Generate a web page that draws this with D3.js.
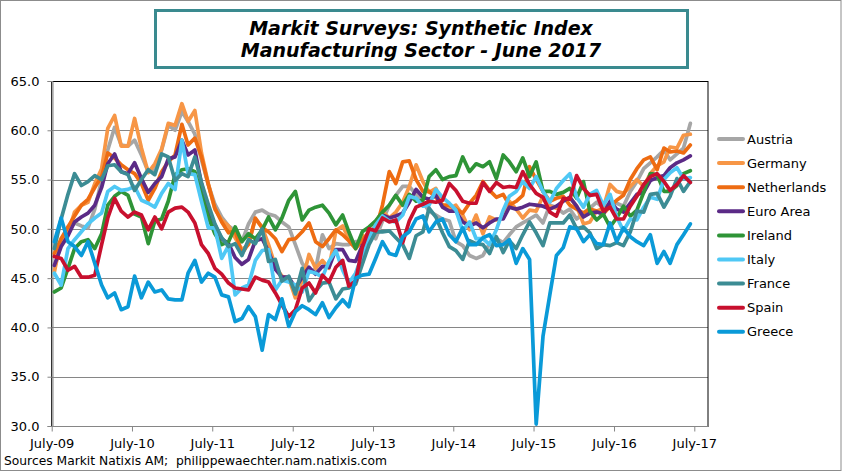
<!DOCTYPE html>
<html><head><meta charset="utf-8">
<script src="https://cdn.jsdelivr.net/npm/d3@7"></script>
<style>
body{margin:0;background:#fff}
svg{display:block}
text{font-family:"DejaVu Sans",Verdana,sans-serif}
</style>
</head><body>
<svg id="chart" width="842" height="472"></svg>
<script>
// ---------- DATA ----------
const titleLines = ["Markit Surveys: Synthetic Index", "Manufacturing Sector - June 2017"];
const sourceText = "Sources Markit Natixis AM;  philippewaechter.nam.natixis.com";
const firstMonth = "2009-07";   // monthly data, July 2009 .. June 2017
const xTickLabels = ["July-09","July-10","July-11","July-12","July-13","July-14","July-15","July-16","July-17"];
const yTicks = [30, 35, 40, 45, 50, 55, 60, 65];
const seriesNames = ["Austria","Germany","Netherlands","Euro Area","Ireland","Italy","France","Spain","Greece"];

const austria = [46.0,48.5,50.2,50.6,50.3,50.1,
 52.0,55.0,58.0,60.3,58.5,58.4,59.0,57.5,55.8,56.0,58.0,60.5,
 60.0,61.9,60.9,59.6,57.0,54.5,52.5,51.2,50.3,49.8,48.7,50.5,
 51.7,51.9,51.5,51.3,50.7,50.2,48.4,46.5,45.6,45.9,49.4,48.0,
 48.5,48.4,48.4,48.7,48.7,49.7,49.0,50.8,52.4,53.4,54.3,54.3,
 53.5,52.7,51.8,51.4,51.0,50.8,48.7,48.3,47.3,47.0,47.3,48.5,
 49.0,48.6,49.4,50.2,50.6,51.0,51.4,50.6,52.4,52.2,51.6,52.0,
 51.0,51.6,52.1,52.7,52.1,52.6,52.6,52.3,53.8,54.8,56.1,56.7,
 57.3,58.0,57.0,57.6,58.2,60.7];
const germany = [45.6,49.0,49.6,51.7,52.4,52.7,
 54.6,56.1,60.2,61.5,58.4,58.4,61.2,58.2,55.7,56.6,58.1,60.7,
 60.5,62.7,60.9,62.0,57.7,54.6,52.0,50.9,50.3,49.1,47.9,48.4,
 51.0,50.2,48.4,46.2,45.2,45.0,43.0,44.7,47.4,46.0,46.8,46.0,
 49.8,50.3,49.0,48.1,49.4,48.6,50.7,51.8,51.1,51.7,52.7,54.3,
 56.5,54.8,53.7,54.1,52.3,52.0,52.4,51.4,49.9,51.4,49.5,51.2,
 50.9,51.1,52.8,52.0,51.1,51.9,51.8,53.3,52.3,52.1,52.9,53.2,
 52.3,50.5,50.7,51.8,52.1,54.5,53.8,53.6,54.3,55.0,54.3,55.6,
 56.4,56.8,58.3,58.2,59.5,59.6];
const netherlands = [47.5,49.0,50.2,51.3,52.4,53.0,
 54.2,55.3,57.7,57.2,56.5,56.0,55.6,54.6,52.9,54.1,55.8,56.8,
 57.5,60.6,58.5,59.2,57.3,54.5,52.1,50.7,49.6,49.8,47.5,48.5,
 51.1,50.1,49.7,49.0,47.7,48.9,49.0,49.7,50.6,48.7,48.2,49.0,
 49.9,49.4,48.8,48.0,48.8,49.7,49.9,52.4,55.8,54.6,56.8,56.9,
 55.0,53.8,53.8,53.2,52.4,52.4,52.0,51.6,52.6,53.4,54.8,53.9,
 53.2,53.5,52.4,52.8,53.4,56.3,55.0,53.8,52.8,53.1,53.3,52.4,
 52.0,51.6,52.0,51.8,51.5,52.3,52.9,53.4,55.0,56.1,57.0,57.3,
 56.0,58.2,57.8,57.9,57.7,58.5];
const euroArea = [46.3,48.2,49.3,50.7,51.2,51.6,
 52.4,54.2,56.6,57.6,55.8,55.6,56.7,55.1,53.7,54.6,55.3,57.1,
 57.3,59.0,57.5,58.0,54.6,52.0,50.4,49.0,48.5,47.1,46.4,46.9,
 48.8,49.0,47.7,45.9,45.1,45.1,44.0,45.1,46.1,45.4,46.2,46.1,
 47.9,47.9,46.8,46.7,48.3,48.8,50.3,51.4,51.1,51.3,51.6,52.7,
 54.0,53.2,53.0,53.4,52.2,51.8,51.8,50.7,50.3,50.6,50.1,50.6,
 51.0,51.0,52.2,52.0,52.2,52.5,52.4,52.3,52.0,52.3,52.8,53.2,
 52.3,51.2,51.6,51.7,51.5,52.8,52.0,51.7,52.6,53.5,53.7,54.9,
 55.2,55.4,56.2,56.7,57.0,57.4];
const ireland = [43.6,44.0,46.0,48.0,48.7,48.9,
 48.0,49.5,52.4,53.3,53.8,53.4,51.5,51.2,48.5,50.8,51.0,52.8,
 55.5,56.0,56.1,55.8,53.5,51.2,49.5,48.4,48.7,50.2,48.7,49.5,
 49.0,49.9,51.2,49.9,51.1,52.9,53.8,50.9,51.9,52.2,52.4,51.6,
 50.4,51.4,49.7,48.0,49.7,50.2,50.8,51.7,52.4,53.4,52.4,53.5,
 52.8,52.9,55.3,56.0,55.0,55.3,55.4,57.3,55.8,56.6,56.3,56.8,
 55.1,57.5,56.8,55.8,57.2,55.3,56.8,53.8,53.8,53.5,53.7,54.1,
 53.1,54.8,51.8,50.9,51.5,50.2,51.1,52.3,51.3,51.9,53.7,55.6,
 55.5,53.8,53.8,54.4,55.6,55.9];
const italy = [45.5,44.3,48.0,48.9,49.7,50.5,
 51.1,51.6,53.8,54.3,53.9,54.0,54.3,52.9,52.6,52.2,53.6,54.6,
 54.0,59.0,55.6,55.5,52.8,50.1,50.1,47.0,48.3,43.3,44.0,44.3,
 46.8,47.8,47.9,43.8,44.8,44.6,44.3,43.6,45.7,45.5,45.1,46.7,
 47.8,45.8,44.5,45.5,47.3,49.1,50.4,51.3,50.8,50.7,51.4,53.3,
 53.1,52.3,52.4,54.0,53.2,52.6,51.9,49.8,50.7,49.0,49.0,48.4,
 49.9,51.9,53.3,53.8,54.8,54.1,55.3,53.8,52.7,54.1,54.9,55.6,
 53.2,52.2,53.5,53.9,52.4,53.5,51.2,49.8,51.0,50.9,52.2,53.2,
 53.0,55.0,55.7,56.2,55.1,55.2];
const france = [48.0,51.0,53.5,55.6,54.4,54.8,
 55.4,55.0,56.4,56.5,55.8,55.5,53.9,55.0,56.0,55.5,57.6,57.3,
 54.9,55.6,55.3,57.3,54.7,52.5,50.5,49.1,48.2,48.5,47.3,48.9,
 48.5,50.0,46.7,46.9,44.7,45.2,43.4,46.0,42.7,43.7,44.5,44.6,
 42.9,43.9,44.0,44.4,46.4,48.4,49.7,49.7,49.8,49.1,48.4,47.0,
 49.3,49.7,52.1,51.2,49.6,48.2,47.8,46.9,48.8,48.5,48.4,47.5,
 49.2,47.6,48.8,48.0,49.4,50.7,49.6,48.3,50.6,50.6,50.6,51.4,
 50.0,50.2,49.6,48.0,48.4,48.3,48.6,48.3,49.7,51.8,51.7,53.5,
 53.6,52.2,53.3,55.1,53.8,54.8];
const spain = [47.2,47.0,45.8,46.2,45.1,45.1,
 45.3,48.4,51.1,53.1,51.8,51.2,51.7,51.4,49.9,51.2,50.0,51.7,
 52.1,52.2,51.7,50.6,48.4,47.5,46.0,45.4,44.5,44.0,43.9,43.8,
 45.1,44.8,44.6,43.5,42.3,41.1,41.8,44.0,44.5,43.5,45.3,44.6,
 46.1,46.8,44.2,44.7,48.1,50.0,49.8,51.1,50.7,50.9,48.6,50.8,
 52.2,52.5,52.8,52.7,52.9,54.6,53.9,52.8,52.6,52.6,54.7,53.8,
 54.7,54.2,54.3,54.2,55.8,54.5,53.6,53.2,51.7,51.3,53.1,53.0,
 55.4,54.1,53.4,53.5,51.8,52.2,51.0,51.0,52.3,53.3,54.5,55.3,
 55.6,54.8,53.9,54.5,55.4,54.7];
const greece = [48.7,51.1,48.7,48.2,47.3,48.7,
 46.5,44.3,43.0,43.5,41.8,42.1,45.2,43.0,44.6,43.6,43.8,42.9,
 42.8,42.8,45.5,46.8,44.6,45.5,45.1,43.3,43.1,40.6,40.9,42.1,
 41.1,37.7,41.3,40.8,42.9,40.1,41.6,42.2,41.8,41.3,42.5,41.0,
 42.0,42.8,42.1,45.0,45.3,45.4,47.0,48.7,47.5,47.3,49.2,49.7,
 51.0,51.3,49.7,50.7,51.0,49.4,48.7,50.1,48.4,48.4,49.1,49.4,
 48.3,48.4,48.9,46.5,48.0,46.9,30.2,39.1,43.3,47.3,48.1,50.2,
 50.0,48.7,49.4,48.5,48.4,50.6,48.7,50.1,49.2,48.7,48.3,49.4,
 46.5,47.7,46.5,48.4,49.4,50.5];

// ---------- STYLE ----------
const seriesValues = [austria, germany, netherlands, euroArea, ireland, italy, france, spain, greece];
const seriesColors = ["#A6A6A6","#F79646","#EE6C12","#5B2A86","#2E9437","#4FC8F5","#3C8C94","#C8102E","#0A9AD8"];

const W = 842, H = 472;
const plot = {left: 51.7, right: 708, top: 81, bottom: 426};
const svg = d3.select("#chart");

// outer border
svg.append("rect").attr("x",0.5).attr("y",0.5).attr("width",W-1.5).attr("height",H-2)
  .attr("fill","#fff").attr("stroke","#8c8c8c").attr("stroke-width",1);

// scales
const parseMonth = d3.timeParse("%Y-%m");
const start = parseMonth(firstMonth);
const months = seriesValues[0].map((_, i) => d3.timeDay.offset(d3.timeMonth.offset(start, i), 12));
const tickDates = xTickLabels.map((_, i) => d3.timeYear.offset(start, i));
const x = d3.scaleTime().domain([tickDates[0], tickDates[tickDates.length-1]]).range([plot.left, 694.3]);
const y = d3.scaleLinear().domain([30, 65]).range([plot.bottom, plot.top]);

// gridlines
svg.append("g").selectAll("line").data(yTicks.filter(v => v > 30 && v < 65)).join("line")
  .attr("x1", plot.left).attr("x2", plot.right)
  .attr("y1", d => Math.round(y(d)) + 0.5).attr("y2", d => Math.round(y(d)) + 0.5)
  .attr("stroke", "#868686").attr("stroke-width", 1);

// plot frame (black)
svg.append("rect").attr("x", plot.left).attr("y", plot.top + 0.5)
  .attr("width", plot.right - plot.left).attr("height", plot.bottom - plot.top)
  .attr("fill", "none").attr("stroke", "#000").attr("stroke-width", 1);

// y axis
const yAxis = svg.append("g").attr("transform", `translate(${Math.round(plot.left)+0.5},0)`)
  .call(d3.axisLeft(y).tickValues(yTicks).tickFormat(d3.format(".1f")).tickSize(5).tickPadding(8));
yAxis.select(".domain").attr("stroke", "#868686");
yAxis.selectAll(".tick line").attr("stroke", "#868686");
yAxis.selectAll("text").attr("font-size", 13).attr("fill", "#000")
  .attr("font-family", "DejaVu Sans, Verdana, sans-serif");

// x axis
const xAxis = svg.append("g").attr("transform", `translate(0,${plot.bottom + 0.5})`)
  .call(d3.axisBottom(x).tickValues(tickDates).tickFormat((d, i) => xTickLabels[i]).tickSize(5).tickSizeOuter(0).tickPadding(7));
xAxis.select(".domain").attr("stroke", "#868686").attr("d", `M${plot.left},0H${plot.right}`);
xAxis.selectAll(".tick line").attr("stroke", "#868686");
xAxis.selectAll("text").attr("font-size", 13).attr("fill", "#000")
  .attr("font-family", "DejaVu Sans, Verdana, sans-serif");

// lines
const line = d3.line().x((d, i) => x(months[i])).y(d => y(d));
svg.append("g").selectAll("path").data(seriesValues).join("path")
  .attr("d", d => line(d))
  .attr("fill", "none")
  .attr("stroke", (d, i) => seriesColors[i])
  .attr("stroke-width", 3.7)
  .attr("stroke-linejoin", "round")
  .attr("stroke-linecap", "round");

// legend
const lg = svg.append("g");
seriesNames.forEach((name, i) => {
  const yy = 139 + i * 24.1;
  lg.append("line").attr("x1", 719).attr("x2", 743).attr("y1", yy).attr("y2", yy)
    .attr("stroke", seriesColors[i]).attr("stroke-width", 4).attr("stroke-linecap", "round");
  lg.append("text").attr("x", 747).attr("y", yy).attr("dy", "0.35em")
    .attr("font-size", 13).attr("fill", "#000").text(name);
});

// title box
svg.append("rect").attr("x", 155.5).attr("y", 10.5).attr("width", 532).attr("height", 57)
  .attr("fill", "#fff").attr("stroke", "#3A8A8F").attr("stroke-width", 3);
titleLines.forEach((t, i) => {
  svg.append("text").attr("x", 421).attr("y", 35 + i * 21.5).attr("text-anchor", "middle")
    .attr("font-size", 19).attr("font-weight", "bold").attr("font-style", "italic")
    .attr("fill", "#000").text(t);
});

// source
svg.append("text").attr("x", 4).attr("y", 465).attr("font-size", 12.3).attr("fill", "#000")
  .attr("xml:space", "preserve").style("white-space", "pre").text(sourceText);
</script>
</body></html>
